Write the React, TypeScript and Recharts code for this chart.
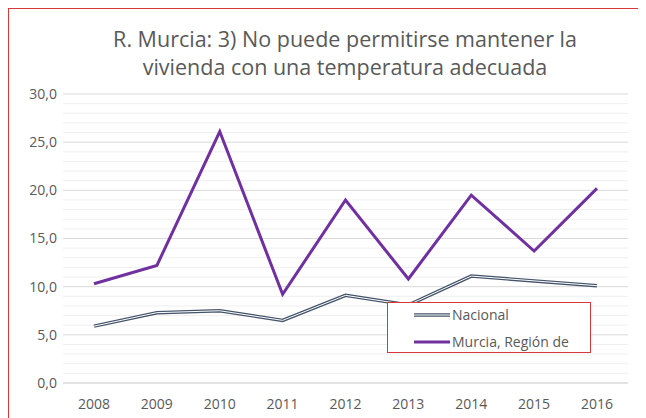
import React from 'react';
import { LineChart, Line, XAxis, YAxis, CartesianGrid, Legend, ReferenceLine } from 'recharts';

const years = ['2008', '2009', '2010', '2011', '2012', '2013', '2014', '2015', '2016'];
const nacional = [5.9, 7.3, 7.5, 6.5, 9.1, 8.1, 11.1, 10.6, 10.1];
const murcia = [10.3, 12.2, 26.1, 9.2, 19.0, 10.8, 19.5, 13.7, 20.2];
const majorTicks = [0, 5, 10, 15, 20, 25, 30];
const minorTicks = Array.from({ length: 31 }, (_, i) => i).filter((t) => t % 5 !== 0);
const seriesNames = ['Nacional', 'Murcia, Región de'];

const data = years.map((y, i) => ({ year: y, nacional: nacional[i], murcia: murcia[i] }));

const FONT = '"Open Sans", sans-serif';
const GREY = '#595959';

function LegendBox() {
  return (
    <div style={{
      width: 204, height: 51, boxSizing: 'border-box', border: '1px solid #d9383a',
      background: '#fff', fontFamily: FONT, fontSize: 14, color: GREY, position: 'relative',
    }}>
      <svg width={40} height={51} style={{ position: 'absolute', left: 24, top: 0 }}>
        <line x1={2} y1={12} x2={38} y2={12} stroke="#44546a" strokeWidth={3.5} />
        <line x1={2} y1={12} x2={38} y2={12} stroke="#fff" strokeWidth={1} />
        <line x1={2} y1={39} x2={38} y2={39} stroke="#7030a0" strokeWidth={3} />
      </svg>
      <div style={{ position: 'absolute', left: 64, top: 3, lineHeight: '18px' }}>{seriesNames[0]}</div>
      <div style={{ position: 'absolute', left: 64, top: 30, lineHeight: '18px' }}>{seriesNames[1]}</div>
    </div>
  );
}

export default function App() {
  return (
    <div style={{ width: 638, height: 410, overflow: 'hidden', position: 'relative' }}>
      <div style={{
        position: 'absolute', left: 0, top: 0, width: 700, height: 500,
        borderLeft: '1.5px solid #d9383a', borderTop: '1.5px solid #d9383a', boxSizing: 'border-box',
      }} />
      <div style={{
        position: 'absolute', left: 0, top: 17, width: 674, textAlign: 'center',
        fontFamily: FONT, fontSize: 21.5, lineHeight: '28px', color: GREY,
      }}>
        R. Murcia: 3) No puede permitirse mantener la<br />vivienda con una temperatura adecuada
      </div>
      <div style={{ position: 'absolute', left: 0, top: 0 }}>
        <LineChart width={638} height={410} data={data} margin={{ top: 86, right: 18, bottom: 0, left: 0 }}>
          <CartesianGrid vertical={false} stroke="#d9d9d9" strokeWidth={1} />
          {minorTicks.map((t) => (
            <ReferenceLine key={t} y={t} stroke="#efefef" strokeWidth={1} />
          ))}
          <XAxis
            dataKey="year" axisLine={{ stroke: '#d9d9d9' }} tickLine={false} height={35}
            padding={{ left: 31, right: 31 }}
            tick={{ fill: GREY, fontSize: 14, fontFamily: FONT }} tickMargin={10} interval={0}
          />
          <YAxis
            domain={[0, 30]} ticks={majorTicks} type="number" width={55} axisLine={false} tickLine={false}
            tickSize={0} tickMargin={6} tick={{ fill: GREY, fontSize: 14, fontFamily: FONT }}
            tickFormatter={(v: number) => v.toFixed(1).replace('.', ',')}
          />
          <Line dataKey="nacional" stroke="#44546a" strokeWidth={3.5} dot={false} isAnimationActive={false} name={seriesNames[0]} legendType="none" />
          <Line dataKey="nacional" stroke="#ffffff" strokeWidth={1} dot={false} isAnimationActive={false} legendType="none" />
          <Line dataKey="murcia" stroke="#7030a0" strokeWidth={3} dot={false} isAnimationActive={false} name={seriesNames[1]} />
          <Legend
            layout="vertical" align="center" verticalAlign="middle"
            wrapperStyle={{ left: 379, top: 294, width: 204, height: 51 }}
            content={() => <LegendBox />}
          />
        </LineChart>
      </div>
    </div>
  );
}
